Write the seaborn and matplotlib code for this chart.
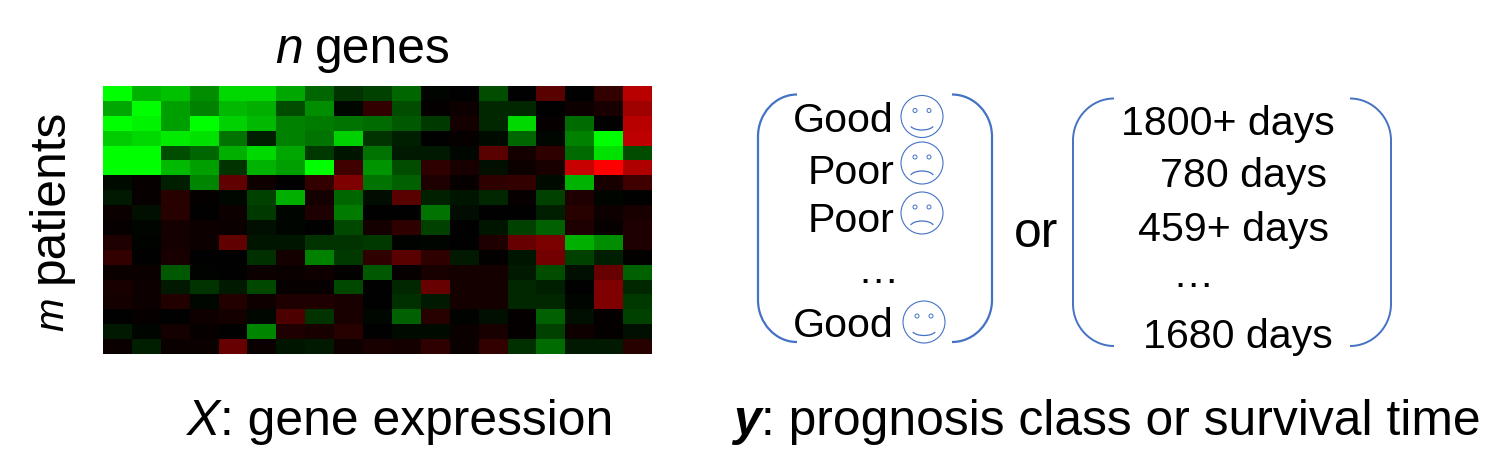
import numpy as np
import matplotlib
matplotlib.use('Agg')
import matplotlib.pyplot as plt
import seaborn as sns
from matplotlib.colors import LinearSegmentedColormap
from matplotlib.patches import Arc, Circle, PathPatch
from matplotlib.path import Path

# expression values: green is positive, red is negative, -100 to 100
expression = [
    [100, 70, 75, 55, 85, 85, 65, 40, 20, 25, 40, 2, 0, 30, 0, -35, 0, -20, -72],
    [65, 100, 62, 50, 72, 68, 30, 55, 3, -20, 30, -2, -5, 15, 15, 0, -5, -10, -62],
    [100, 95, 62, 100, 82, 72, 50, 48, 45, 42, 35, 22, -8, 15, 85, -3, 42, 0, -72],
    [80, 85, 92, 88, 45, 12, 50, 45, 82, 20, 12, 0, -3, 4, 40, 3, 50, 100, -75],
    [100, 100, 30, 40, 68, 85, 65, 22, 8, 45, 10, 10, 3, -35, -8, -18, 42, 88, 30],
    [100, 100, 72, 62, 20, 70, 62, 100, -25, 58, 30, -18, -10, 6, -5, -10, -78, -100, -68],
    [4, -3, 12, 52, -38, -6, 0, -20, -50, 45, 38, -12, -3, -18, -20, 4, 70, -10, -25],
    [10, -3, -15, -2, 3, 25, 68, -8, 40, 5, -35, 13, 8, 15, -3, 25, -12, 2, 0],
    [-4, 6, -15, 0, -5, 22, 2, -12, 48, 0, 0, 45, 5, 0, 0, 12, -15, -5, -10],
    [-3, 2, -8, -5, -4, 6, 2, 0, 28, -8, -18, 25, 0, 8, 25, 38, -12, -3, -12],
    [-12, 1, -8, -5, -38, 8, 8, 20, 20, 22, 1, 2, 0, -12, -40, -48, 68, 55, -12],
    [-20, 0, -10, 0, 0, 18, -8, 50, 22, -18, -35, -18, 10, -1, 8, -45, 25, 12, -1],
    [-4, -4, 35, 1, 0, -5, -4, -6, -1, 35, -3, -10, -8, -8, 10, 30, 6, -40, 38],
    [-10, -5, 10, 20, 10, 28, -3, -3, 28, 0, 15, -40, -8, -8, 15, 12, 0, -50, 15],
    [-8, -5, -14, 3, -14, -6, -12, -12, -10, 0, 18, 10, -8, -8, 15, 15, 2, -50, 22],
    [0, -3, 0, -6, -8, 3, -30, 20, -10, 3, 38, -15, 1, 6, -2, 38, 6, -2, 25],
    [10, 2, -8, -3, 0, 52, -12, -10, -15, 0, 4, 4, -4, -10, -2, 25, -6, -2, 6],
    [-4, 12, -4, -4, -40, -4, 8, 10, -6, -10, -8, -18, -4, -20, 18, 42, 10, 10, -15],
]
prognosis = ['Good', 'Poor', 'Poor', '…', 'Good']
survival = ['1800+ days', '780 days', '459+ days', '…', '1680 days']

W, H = 1512, 476
BLUE = '#4472C4'
FS = 35.8
FS_SMALL = 29.6

sns.set_theme(style='white')
plt.rcParams['font.family'] = ['Liberation Sans', 'DejaVu Sans']

fig = plt.figure(figsize=(W / 100, H / 100), dpi=100, facecolor='white')

# heatmap
ax = fig.add_axes([103 / W, 1 - 354 / H, 549 / W, 268 / H])
cmap = LinearSegmentedColormap.from_list('rbg', ['#FF0000', '#000000', '#00FF00'])
sns.heatmap(np.array(expression), ax=ax, cmap=cmap, vmin=-100, vmax=100, cbar=False,
            xticklabels=False, yticklabels=False)

# everything else sits on a pixel-sized overlay
ov = fig.add_axes([0, 0, 1, 1])
ov.set_xlim(0, W)
ov.set_ylim(H, 0)
ov.axis('off')
ov.patch.set_alpha(0)


def label(x, y, s, size=FS, **kw):
    ov.text(x, y, s, fontsize=size, color='black', va='baseline', ha='left', **kw)


def vlabel(x, y, s, size=FS, **kw):
    ov.text(x, y, s, fontsize=size, color='black', rotation=90, ha='left', va='baseline',
            rotation_mode='anchor', **kw)


def bracket(x_out, x_in, top, bottom, lw):
    # two mirrored sides, each with elliptical corners
    for xa, xb in [(x_out[0], x_in[0]), (x_out[1], x_in[1])]:
        r = 42
        k = 0.55
        verts = [(xb, top), (xb + (xa - xb) * k, top), (xa, top + r * (1 - k)), (xa, top + r),
                 (xa, bottom - r),
                 (xa, bottom - r * (1 - k)), (xb + (xa - xb) * k, bottom), (xb, bottom)]
        codes = [Path.MOVETO, Path.CURVE4, Path.CURVE4, Path.CURVE4, Path.LINETO,
                 Path.CURVE4, Path.CURVE4, Path.CURVE4]
        ov.add_patch(PathPatch(Path(verts, codes), fc='none', ec=BLUE, lw=lw))


def smiley(x, y, happy):
    ov.add_patch(Circle((x, y), 21, fc='none', ec=BLUE, lw=0.8))
    for dx in (-7, 7):
        ov.add_patch(Circle((x + dx, y - 6), 2, fc='none', ec=BLUE, lw=0.7))
    if happy:
        ov.add_patch(Arc((x, y + 8), 24, 11, theta1=10, theta2=170, ec=BLUE, lw=0.9))
    else:
        ov.add_patch(Arc((x, y + 14), 24, 12, theta1=190, theta2=350, ec=BLUE, lw=0.9))


label(275, 63, 'n', style='italic')
label(315, 63, 'genes')
vlabel(63, 331, 'm', size=29, style='italic')
vlabel(63, 283, 'patients')

label(187, 435, 'X', style='italic')
label(220, 435, ': gene expression')
label(733, 435, 'y', style='italic', weight='bold')
label(761, 435, ': prognosis class or survival time')
label(1014, 247, 'or')

# prognosis column
for s, x, y in zip(prognosis, [793, 808, 808, 857, 793], [132, 183.5, 232, 283, 337]):
    label(x, y, s, size=FS_SMALL)
for x, y, happy in zip([922, 922, 922, 924], [116.5, 163, 213, 322], [True, False, False, True]):
    smiley(x, y, happy)
bracket((758, 992), (797, 952), 94.5, 342, 1.6)

# survival column
for s, x, y in zip(survival, [1121, 1160, 1138, 1172, 1143], [135, 187, 241, 287, 348]):
    label(x, y, s, size=FS_SMALL)
bracket((1073, 1391), (1114, 1350), 98.5, 346, 1.4)

fig.savefig('out.png', dpi=100, facecolor='white')
